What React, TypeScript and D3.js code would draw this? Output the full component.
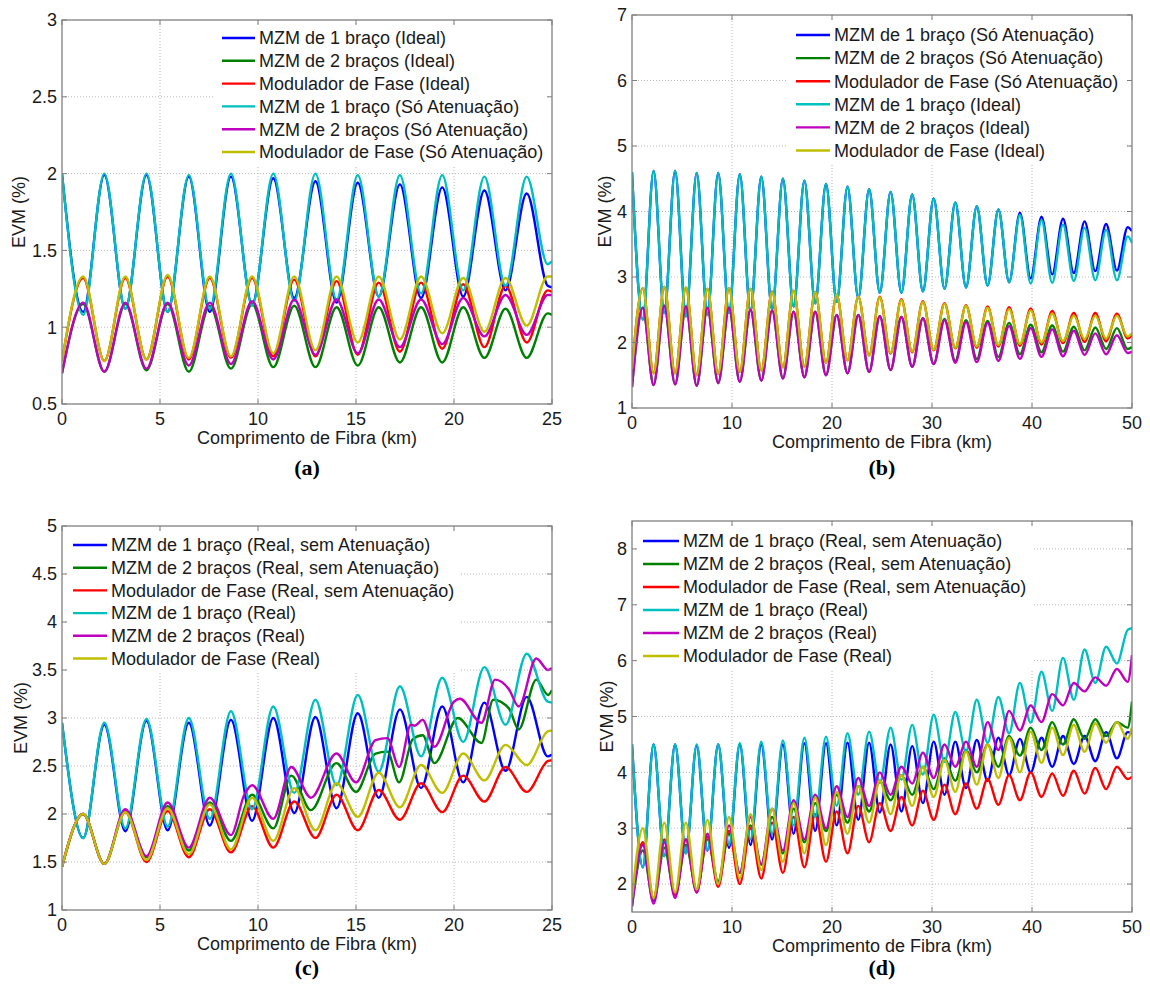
import React from 'react';
import * as d3 from 'd3';

// Extreme positions (km) — half-period sampling of the oscillations
const km25 = [0, 1.08, 2.16, 3.23, 4.31, 5.39, 6.47, 7.54, 8.62, 9.7, 10.78, 11.85, 12.93, 14.01, 15.09, 16.16, 17.24, 18.32, 19.4, 20.47, 21.55, 22.63, 23.71, 24.78, 25];
const km50 = [0, 1.08, 2.16, 3.23, 4.31, 5.39, 6.47, 7.54, 8.62, 9.7, 10.78, 11.85, 12.93, 14.01, 15.09, 16.16, 17.24, 18.32, 19.4, 20.47, 21.55, 22.63, 23.71, 24.78, 25.86, 26.94, 28.02, 29.09, 30.17, 31.25, 32.33, 33.4, 34.48, 35.56, 36.64, 37.71, 38.79, 39.87, 40.95, 42.02, 43.1, 44.18, 45.26, 46.33, 47.41, 48.49, 49.57, 50];

// Panel (a)
const aBlue = [2.0, 1.1, 1.99, 1.12, 1.99, 1.1, 1.98, 1.1, 1.98, 1.15, 1.97, 1.19, 1.95, 1.16, 1.94, 1.2, 1.93, 1.19, 1.91, 1.2, 1.89, 1.24, 1.87, 1.27, 1.26];
const aGreen = [0.7, 1.15, 0.71, 1.15, 0.72, 1.15, 0.71, 1.14, 0.73, 1.15, 0.74, 1.14, 0.74, 1.13, 0.75, 1.13, 0.77, 1.13, 0.77, 1.13, 0.8, 1.12, 0.8, 1.09, 1.08];
const aRed = [0.78, 1.32, 0.78, 1.32, 0.79, 1.33, 0.79, 1.32, 0.8, 1.32, 0.81, 1.31, 0.81, 1.3, 0.82, 1.29, 0.84, 1.29, 0.86, 1.28, 0.87, 1.27, 0.9, 1.24, 1.23];
const aCyan = [2.0, 1.08, 2.0, 1.12, 2.0, 1.1, 1.99, 1.12, 2.0, 1.14, 2.0, 1.17, 2.0, 1.18, 1.99, 1.2, 1.99, 1.22, 1.99, 1.24, 1.98, 1.27, 1.98, 1.41, 1.43];
const aMagenta = [0.7, 1.16, 0.71, 1.16, 0.73, 1.16, 0.75, 1.16, 0.76, 1.17, 0.79, 1.18, 0.82, 1.18, 0.83, 1.18, 0.87, 1.18, 0.89, 1.19, 0.94, 1.21, 0.95, 1.21, 1.21];
const aYellow = [0.78, 1.33, 0.78, 1.33, 0.79, 1.34, 0.8, 1.33, 0.81, 1.33, 0.83, 1.33, 0.85, 1.33, 0.9, 1.33, 0.92, 1.33, 0.96, 1.32, 0.97, 1.32, 1.01, 1.33, 1.33];

// Panel (b)
const bBlue = [4.6, 2.35, 4.62, 2.45, 4.62, 2.4, 4.59, 2.42, 4.59, 2.45, 4.57, 2.48, 4.53, 2.5, 4.5, 2.55, 4.47, 2.6, 4.42, 2.62, 4.38, 2.68, 4.34, 2.76, 4.3, 2.76, 4.26, 2.78, 4.2, 2.82, 4.14, 2.84, 4.08, 2.87, 4.03, 2.92, 3.98, 2.98, 3.92, 3.04, 3.89, 3.06, 3.85, 3.09, 3.81, 3.1, 3.76, 3.7];
const bGreen = [1.32, 2.53, 1.35, 2.56, 1.36, 2.55, 1.34, 2.53, 1.38, 2.53, 1.4, 2.5, 1.42, 2.49, 1.45, 2.47, 1.47, 2.47, 1.5, 2.42, 1.53, 2.42, 1.55, 2.4, 1.58, 2.39, 1.63, 2.37, 1.67, 2.36, 1.72, 2.34, 1.75, 2.33, 1.78, 2.3, 1.82, 2.27, 1.85, 2.26, 1.86, 2.24, 1.88, 2.23, 1.9, 2.22, 1.9, 1.93];
const bRed = [1.6, 2.83, 1.53, 2.85, 1.53, 2.84, 1.5, 2.82, 1.52, 2.83, 1.55, 2.82, 1.57, 2.78, 1.62, 2.79, 1.63, 2.77, 1.69, 2.73, 1.73, 2.7, 1.8, 2.7, 1.83, 2.66, 1.85, 2.63, 1.88, 2.6, 1.91, 2.57, 1.92, 2.55, 1.94, 2.54, 1.95, 2.52, 1.97, 2.48, 1.99, 2.45, 2.01, 2.45, 2.02, 2.44, 2.06, 2.11];
const bCyan = [4.6, 2.35, 4.62, 2.45, 4.62, 2.4, 4.59, 2.42, 4.59, 2.45, 4.57, 2.48, 4.53, 2.5, 4.5, 2.55, 4.47, 2.6, 4.42, 2.62, 4.38, 2.68, 4.34, 2.76, 4.3, 2.76, 4.26, 2.78, 4.2, 2.82, 4.14, 2.84, 4.08, 2.87, 4.03, 2.92, 3.95, 2.9, 3.87, 2.91, 3.8, 2.94, 3.75, 2.95, 3.72, 2.95, 3.62, 3.52];
const bMagenta = [1.32, 2.53, 1.35, 2.56, 1.36, 2.55, 1.34, 2.53, 1.38, 2.53, 1.4, 2.5, 1.42, 2.49, 1.45, 2.47, 1.47, 2.47, 1.5, 2.42, 1.53, 2.42, 1.55, 2.4, 1.58, 2.39, 1.63, 2.37, 1.67, 2.34, 1.69, 2.31, 1.7, 2.3, 1.72, 2.25, 1.75, 2.22, 1.78, 2.2, 1.79, 2.18, 1.81, 2.14, 1.82, 2.11, 1.84, 1.86];
const bYellow = [1.6, 2.83, 1.53, 2.85, 1.53, 2.84, 1.5, 2.82, 1.52, 2.83, 1.55, 2.82, 1.57, 2.77, 1.62, 2.79, 1.63, 2.77, 1.69, 2.73, 1.73, 2.7, 1.8, 2.69, 1.84, 2.65, 1.86, 2.62, 1.89, 2.59, 1.92, 2.56, 1.94, 2.53, 1.96, 2.51, 1.98, 2.49, 2.0, 2.44, 2.02, 2.41, 2.05, 2.41, 2.06, 2.41, 2.09, 2.14];

// Panel (c)
const cBlue = [2.95, 1.75, 2.93, 1.82, 2.97, 1.83, 2.95, 1.88, 2.98, 1.93, 3.0, 2.01, 3.01, 2.06, 3.05, 2.17, 3.09, 2.27, 3.12, 2.33, 3.16, 2.45, 3.22, 2.6, 2.62];
const cRed = [1.45, 2.0, 1.48, 2.02, 1.5, 2.03, 1.55, 2.05, 1.6, 2.08, 1.65, 2.13, 1.75, 2.2, 1.83, 2.25, 1.94, 2.32, 2.02, 2.4, 2.13, 2.49, 2.23, 2.55, 2.56];
const cCyan = [2.95, 1.75, 2.95, 1.85, 2.99, 1.87, 3.0, 1.95, 3.07, 2.05, 3.12, 2.22, 3.19, 2.3, 3.24, 2.44, 3.33, 2.6, 3.42, 2.75, 3.53, 2.93, 3.67, 3.17, 3.16];
const cYellow = [1.45, 2.0, 1.48, 2.02, 1.52, 2.06, 1.58, 2.1, 1.63, 2.17, 1.72, 2.27, 1.83, 2.32, 1.97, 2.43, 2.07, 2.51, 2.22, 2.63, 2.35, 2.72, 2.51, 2.86, 2.87];
const cGreenKm = [0, 1.08, 2.16, 3.23, 4.31, 5.39, 6.47, 7.54, 8.62, 9.7, 10.78, 11.7, 12.7, 14.0, 15.0, 16.0, 16.6, 17.2, 17.9, 18.4, 19.0, 20.2, 21.4, 22.0, 22.8, 23.3, 24.2, 24.8, 25];
const cGreen = [1.45, 2.0, 1.48, 2.03, 1.55, 2.08, 1.62, 2.12, 1.72, 2.2, 1.85, 2.4, 2.04, 2.53, 2.23, 2.63, 2.65, 2.33, 2.78, 2.82, 2.53, 3.0, 2.74, 3.19, 3.1, 2.88, 3.4, 3.24, 3.29];
const cMagentaKm = [0, 1.08, 2.16, 3.23, 4.31, 5.39, 6.47, 7.54, 8.62, 9.3, 9.7, 10.78, 11.7, 12.7, 14.0, 15.0, 16.0, 16.6, 17.2, 17.8, 18.0, 18.4, 19.0, 20.0, 20.3, 21.4, 22.1, 22.8, 23.3, 24.2, 24.8, 25];
const cMagenta = [1.45, 2.0, 1.48, 2.05, 1.56, 2.12, 1.65, 2.17, 1.78, 2.2, 2.3, 1.95, 2.49, 2.17, 2.63, 2.33, 2.77, 2.79, 2.49, 2.93, 2.92, 2.98, 2.7, 3.17, 3.2, 2.95, 3.4, 3.3, 3.12, 3.62, 3.5, 3.52];

// Panel (d)
const dBlue = [4.5, 2.3, 4.5, 2.5, 4.5, 2.55, 4.48, 2.6, 4.5, 2.65, 4.5, 2.7, 4.5, 2.8, 4.5, 2.9, 4.52, 2.95, 4.52, 3.05, 4.53, 3.15, 4.53, 3.28, 4.5, 3.3, 4.47, 3.45, 4.55, 3.6, 4.55, 3.72, 4.58, 3.85, 4.62, 3.95, 4.6, 4.0, 4.62, 4.1, 4.65, 4.15, 4.65, 4.2, 4.72, 4.25, 4.72, 4.7];
const dRed = [1.7, 2.75, 1.75, 2.8, 1.8, 2.8, 1.85, 2.85, 1.95, 2.95, 2.0, 3.0, 2.1, 3.1, 2.2, 3.2, 2.3, 3.25, 2.4, 3.3, 2.55, 3.4, 2.75, 3.45, 2.95, 3.56, 3.05, 3.67, 3.15, 3.78, 3.25, 3.8, 3.35, 3.88, 3.42, 3.95, 3.5, 4.0, 3.56, 3.98, 3.58, 4.03, 3.62, 4.08, 3.7, 4.1, 3.88, 3.92];
const dCyan = [4.5, 2.3, 4.5, 2.5, 4.5, 2.55, 4.5, 2.6, 4.5, 2.7, 4.52, 2.8, 4.55, 2.9, 4.57, 3.05, 4.62, 3.2, 4.64, 3.4, 4.7, 3.6, 4.73, 3.81, 4.8, 3.87, 4.85, 3.96, 5.03, 4.19, 5.08, 4.37, 5.3, 4.53, 5.35, 4.7, 5.6, 4.89, 5.8, 5.1, 6.05, 5.3, 6.2, 5.6, 6.25, 5.95, 6.55, 6.58];
const dYellow = [1.75, 3.0, 1.75, 3.1, 1.85, 3.1, 1.9, 3.15, 2.0, 3.2, 2.1, 3.25, 2.25, 3.35, 2.4, 3.45, 2.55, 3.55, 2.7, 3.65, 2.9, 3.75, 3.1, 3.85, 3.25, 3.95, 3.4, 4.1, 3.56, 4.22, 3.65, 4.37, 3.78, 4.5, 3.9, 4.62, 4.0, 4.73, 4.17, 4.8, 4.31, 4.85, 4.37, 4.88, 4.53, 4.9, 4.6, 4.8];
const dGreen = [1.6, 2.6, 1.7, 2.65, 1.8, 2.7, 1.9, 2.8, 2.05, 2.9, 2.2, 3.05, 2.35, 3.2, 2.55, 3.35, 2.75, 3.45, 2.95, 3.6, 3.1, 3.75, 3.3, 3.85, 3.5, 3.95, 3.6, 4.1, 3.7, 4.25, 3.85, 4.4, 4.0, 4.5, 4.1, 4.65, 4.3, 4.8, 4.4, 4.9, 4.5, 4.95, 4.6, 4.95, 4.65, 4.9, 4.8, 5.27];
const dMagenta = [1.6, 2.7, 1.65, 2.75, 1.75, 2.8, 1.85, 2.9, 2.0, 3.05, 2.2, 3.2, 2.35, 3.35, 2.6, 3.5, 2.8, 3.6, 3.0, 3.75, 3.2, 3.9, 3.4, 4.0, 3.6, 4.1, 3.8, 4.35, 3.9, 4.5, 4.1, 4.55, 4.1, 4.9, 4.4, 5.1, 4.75, 5.2, 4.9, 5.4, 5.2, 5.6, 5.45, 5.7, 5.55, 5.85, 5.62, 6.1];

const COLORS = ['#0000ff', '#008000', '#ff0000', '#00bfbf', '#bf00bf', '#bfbf00'];

const labelsA = ['MZM de 1 braço (Ideal)', 'MZM de 2 braços (Ideal)', 'Modulador de Fase (Ideal)', 'MZM de 1 braço (Só Atenuação)', 'MZM de 2 braços (Só Atenuação)', 'Modulador de Fase (Só Atenuação)'];
const labelsB = ['MZM de 1 braço (Só Atenuação)', 'MZM de 2 braços (Só Atenuação)', 'Modulador de Fase (Só Atenuação)', 'MZM de 1 braço (Ideal)', 'MZM de 2 braços (Ideal)', 'Modulador de Fase (Ideal)'];
const labelsCD = ['MZM de 1 braço (Real, sem Atenuação)', 'MZM de 2 braços (Real, sem Atenuação)', 'Modulador de Fase (Real, sem Atenuação)', 'MZM de 1 braço (Real)', 'MZM de 2 braços (Real)', 'Modulador de Fase (Real)'];

const xTicks25 = [0, 5, 10, 15, 20, 25];
const xTicks50 = [0, 10, 20, 30, 40, 50];
const yTicksA = [0.5, 1, 1.5, 2, 2.5, 3];
const yTicksB = [1, 2, 3, 4, 5, 6, 7];
const yTicksC = [1, 1.5, 2, 2.5, 3, 3.5, 4, 4.5, 5];
const yTicksD = [2, 3, 4, 5, 6, 7, 8];

type Pt = [number, number];
const pair = (xs: number[], ys: number[]): Pt[] => xs.map((x, i) => [x, ys[i]] as Pt);

const FONT = '"Liberation Sans", Arial, Helvetica, sans-serif';

interface Leg { bx: number; by: number; bw: number; bh: number; lx1: number; lx2: number; tx: number; ry0: number; rdy: number }
interface PanelProps {
  id: string;
  left: number; right: number; top: number; bottom: number;
  xMax: number; yMin: number; yMax: number;
  xTicks: number[]; yTicks: number[];
  series: Pt[][];
  labels: string[];
  leg: Leg;
  caption: string;
  captionY: number;
  yTitleX: number;
}

function Panel(p: PanelProps) {
  const x = d3.scaleLinear().domain([0, p.xMax]).range([p.left, p.right]);
  const y = d3.scaleLinear().domain([p.yMin, p.yMax]).range([p.bottom, p.top]);
  const line = d3.line<Pt>().x(d => x(d[0])).y(d => y(d[1])).curve(d3.curveMonotoneX);
  const axisColor = '#808080';
  const gridColor = '#b8b8b8';
  const cx = (p.left + p.right) / 2;
  const cy = (p.top + p.bottom) / 2;
  return (
    <g>
      <defs>
        <clipPath id={'clip' + p.id}>
          <rect x={p.left} y={p.top} width={p.right - p.left} height={p.bottom - p.top} />
        </clipPath>
      </defs>
      {p.xTicks.filter(t => t > 0 && t < p.xMax).map(t => (
        <line key={'gx' + t} x1={x(t)} x2={x(t)} y1={p.top} y2={p.bottom} stroke={gridColor} strokeWidth={1} strokeDasharray="1,2" />
      ))}
      {p.yTicks.filter(t => t > p.yMin && t < p.yMax).map(t => (
        <line key={'gy' + t} x1={p.left} x2={p.right} y1={y(t)} y2={y(t)} stroke={gridColor} strokeWidth={1} strokeDasharray="1,2" />
      ))}
      <g clipPath={`url(#clip${p.id})`}>
        {p.series.map((s, i) => (
          <path key={i} d={line(s) || ''} fill="none" stroke={COLORS[i]} strokeWidth={2.4} strokeLinejoin="round" />
        ))}
      </g>
      <rect x={p.left} y={p.top} width={p.right - p.left} height={p.bottom - p.top} fill="none" stroke={axisColor} strokeWidth={1.3} />
      {p.xTicks.map(t => (
        <g key={'tx' + t}>
          <line x1={x(t)} x2={x(t)} y1={p.bottom} y2={p.bottom - 5} stroke={axisColor} />
          <line x1={x(t)} x2={x(t)} y1={p.top} y2={p.top + 5} stroke={axisColor} />
          <text x={x(t)} y={p.bottom + 21} textAnchor="middle" fontSize={18} fontFamily={FONT} fill="#1a1a1a">{t}</text>
        </g>
      ))}
      {p.yTicks.map(t => (
        <g key={'ty' + t}>
          <line x1={p.left} x2={p.left + 5} y1={y(t)} y2={y(t)} stroke={axisColor} />
          <line x1={p.right} x2={p.right - 5} y1={y(t)} y2={y(t)} stroke={axisColor} />
          <text x={p.left - 5} y={y(t)} dy="0.35em" textAnchor="end" fontSize={18} fontFamily={FONT} fill="#1a1a1a">{String(t)}</text>
        </g>
      ))}
      <text x={cx} y={p.bottom + 40} textAnchor="middle" fontSize={18} fontFamily={FONT} fill="#1a1a1a">Comprimento de Fibra (km)</text>
      <text transform={`translate(${p.yTitleX},${cy}) rotate(-90)`} dy="0.35em" textAnchor="middle" fontSize={18} fontFamily={FONT} fill="#1a1a1a">EVM (%)</text>
      <rect x={p.leg.bx} y={p.leg.by} width={p.leg.bw} height={p.leg.bh} fill="#ffffff" />
      {p.labels.map((l, i) => {
        const ry = p.leg.ry0 + i * p.leg.rdy;
        return (
          <g key={'lg' + i}>
            <line x1={p.leg.lx1} x2={p.leg.lx2} y1={ry} y2={ry} stroke={COLORS[i]} strokeWidth={2.4} />
            <text x={p.leg.tx} y={ry} dy="0.35em" fontSize={18} fontFamily={FONT} fill="#1a1a1a">{l}</text>
          </g>
        );
      })}
      <text x={cx} y={p.captionY} textAnchor="middle" fontSize={22} fontWeight="bold" fontFamily='"Liberation Serif", "Times New Roman", serif' fill="#000">{p.caption}</text>
    </g>
  );
}

export default function App() {
  const seriesA = [pair(km25, aBlue), pair(km25, aGreen), pair(km25, aRed), pair(km25, aCyan), pair(km25, aMagenta), pair(km25, aYellow)];
  const seriesB = [pair(km50, bBlue), pair(km50, bGreen), pair(km50, bRed), pair(km50, bCyan), pair(km50, bMagenta), pair(km50, bYellow)];
  const seriesC = [pair(km25, cBlue), pair(cGreenKm, cGreen), pair(km25, cRed), pair(km25, cCyan), pair(cMagentaKm, cMagenta), pair(km25, cYellow)];
  const seriesD = [pair(km50, dBlue), pair(km50, dGreen), pair(km50, dRed), pair(km50, dCyan), pair(km50, dMagenta), pair(km50, dYellow)];
  return (
    <svg width={1150} height={989} style={{ position: 'absolute', left: 0, top: 0, background: '#fff' }}>
      <rect x={0} y={0} width={1150} height={989} fill="#fff" />
      <Panel id="a" left={62} right={552} top={20} bottom={404} xMax={25} yMin={0.5} yMax={3}
        xTicks={xTicks25} yTicks={yTicksA} series={seriesA} labels={labelsA} caption="(a)" captionY={475} yTitleX={19}
        leg={{ bx: 213, by: 25, bw: 333, bh: 140, lx1: 222, lx2: 255, tx: 259, ry0: 38, rdy: 22.8 }} />
      <Panel id="b" left={632} right={1132} top={15} bottom={408} xMax={50} yMin={1} yMax={7}
        xTicks={xTicks50} yTicks={yTicksB} series={seriesB} labels={labelsB} caption="(b)" captionY={475} yTitleX={605}
        leg={{ bx: 786, by: 21, bw: 340, bh: 143, lx1: 796, lx2: 830, tx: 834, ry0: 35, rdy: 23.1 }} />
      <Panel id="c" left={62} right={552} top={526} bottom={910} xMax={25} yMin={1} yMax={5}
        xTicks={xTicks25} yTicks={yTicksC} series={seriesC} labels={labelsCD} caption="(c)" captionY={975} yTitleX={21}
        leg={{ bx: 67, by: 531, bw: 393, bh: 140, lx1: 73, lx2: 107, tx: 111, ry0: 545, rdy: 22.7 }} />
      <Panel id="d" left={632} right={1132} top={521} bottom={912} xMax={50} yMin={1.5} yMax={8.5}
        xTicks={xTicks50} yTicks={yTicksD} series={seriesD} labels={labelsCD} caption="(d)" captionY={975} yTitleX={607}
        leg={{ bx: 637, by: 526, bw: 397, bh: 145, lx1: 643, lx2: 679, tx: 683, ry0: 541, rdy: 23 }} />
    </svg>
  );
}
